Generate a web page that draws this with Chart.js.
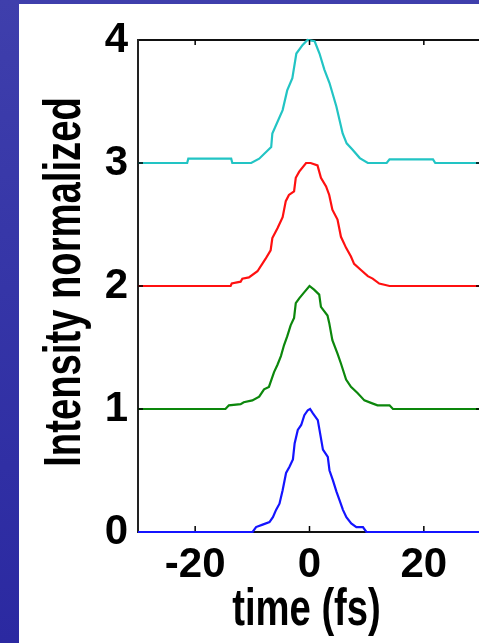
<!DOCTYPE html>
<html><head><meta charset="utf-8">
<script src="https://cdn.jsdelivr.net/npm/chart.js@4.4.0/dist/chart.umd.min.js"></script>
<style>
html,body{margin:0;padding:0;width:479px;height:643px;overflow:hidden;}
body{background:linear-gradient(180deg,#3f3fac 0%,#3535a7 45%,#2b29a1 100%);position:relative;}
#panel{position:absolute;left:19px;top:4px;width:470px;height:650px;background:#fff;}
#c{position:absolute;left:0;top:0;}
</style></head><body>
<div id="panel"></div>
<canvas id="c" width="490" height="643"></canvas>
<script>
// tick labels
const xTicks = [-20, 0, 20];
const yTicks = [0, 1, 2, 3, 4];

// blue pulse (offset 0)
const tBlue = [-30, -9.95, -9.35, -8.2, -7.0, -6.4, -5.85, -5.25, -4.7, -4.1, -3.5, -2.9, -2.6, -2.05, -1.45, -0.9, -0.3, 0.1, 0.6, 1.45, 1.75, 2.35, 3.2, 3.5, 4.1, 4.7, 5.25, 5.85, 6.45, 7.3, 8.2, 9.35, 9.95, 30];
const iBlue = [0, 0, 0.04, 0.06, 0.08, 0.12, 0.18, 0.23, 0.34, 0.48, 0.53, 0.59, 0.72, 0.83, 0.87, 0.95, 0.99, 1.0, 0.965, 0.91, 0.83, 0.67, 0.61, 0.50, 0.42, 0.33, 0.26, 0.18, 0.12, 0.07, 0.04, 0.04, 0, 0];

// green pulse (offset 1)
const tGreen = [-30, -14.7, -14.1, -12.05, -11.5, -10, -8.8, -7.95, -7.1, -6.2, -5.6, -5.0, -4.45, -3.9, -3.3, -2.7, -2.4, -1.8, -0.9, 0, 0.8, 1.7, 2.0, 3.15, 3.45, 4.0, 4.9, 5.5, 6.4, 7.25, 8.4, 9.6, 10.75, 11.9, 14.0, 14.6, 30];
const iGreen = [1.0, 1.0, 1.03, 1.04, 1.055, 1.07, 1.10, 1.16, 1.18, 1.30, 1.36, 1.43, 1.52, 1.59, 1.68, 1.74, 1.86, 1.90, 1.95, 2.0, 1.97, 1.93, 1.83, 1.76, 1.70, 1.56, 1.45, 1.37, 1.24, 1.18, 1.13, 1.07, 1.05, 1.03, 1.03, 1.0, 1.0];

// red pulse (offset 2)
const tRed = [-30, -13.8, -13.6, -12.05, -11.75, -10.6, -9.1, -7.7, -6.8, -6.5, -5.6, -4.7, -4.15, -3.6, -2.7, -2.4, -1.8, -0.6, 0.2, 1.4, 2.0, 2.9, 3.45, 4.0, 4.9, 5.5, 6.4, 7.25, 7.8, 9.0, 10.2, 11.05, 12.2, 14.0, 30];
const iRed = [2.0, 2.0, 2.02, 2.035, 2.06, 2.07, 2.12, 2.22, 2.29, 2.39, 2.47, 2.56, 2.69, 2.74, 2.77, 2.88, 2.93, 3.0, 3.0, 2.98, 2.88, 2.81, 2.74, 2.62, 2.54, 2.40, 2.31, 2.24, 2.18, 2.13, 2.08, 2.06, 2.02, 2.0, 2.0];

// cyan pulse (offset 3)
const tCyan = [-30, -21.4, -21.2, -13.7, -13.5, -10.2, -8.8, -6.7, -6.5, -4.7, -3.9, -3.0, -2.3, -1.2, -0.35, 0.9, 1.75, 2.6, 3.5, 4.7, 5.8, 6.5, 7.5, 8.8, 10.2, 13.5, 14.0, 21.6, 22.0, 30];
const iCyan = [3.0, 3.0, 3.035, 3.035, 3.0, 3.0, 3.035, 3.13, 3.24, 3.43, 3.59, 3.69, 3.89, 3.96, 4.0, 3.99, 3.89, 3.76, 3.65, 3.46, 3.24, 3.16, 3.11, 3.04, 3.0, 3.0, 3.03, 3.03, 3.0, 3.0];

const F = "'Liberation Sans', Arial, sans-serif";
const pts = (t, v) => t.map((x, i) => ({x: x, y: v[i]}));

// axis title drawn as real text, horizontally condensed like the original
function condensedTitle() {
  const o = this.options.title;
  if (!o.display) return;
  const ctx = this.ctx;
  ctx.save();
  ctx.font = 'bold ' + o.font.size + 'px ' + F;
  ctx.fillStyle = o.color;
  ctx.textAlign = 'center';
  ctx.textBaseline = 'alphabetic';
  if (this.isHorizontal()) {
    ctx.translate((this.left + this.right) / 2 - 3, this.bottom - 18);
  } else {
    ctx.translate(this.left + 80, (this.top + this.bottom) / 2 - 4);
    ctx.rotate(-Math.PI / 2);
  }
  ctx.scale(0.735, 1);
  ctx.fillText(o.text, 0, 0);
  ctx.restore();
}

const inwardTicks = {
  id: 'inwardTicks',
  afterDraw(chart) {
    const {ctx, chartArea: a, scales: {x, y}} = chart;
    ctx.save();
    ctx.strokeStyle = '#000';
    ctx.lineWidth = 1.5;
    ctx.beginPath();
    xTicks.forEach(v => {
      const px = x.getPixelForValue(v);
      ctx.moveTo(px, a.bottom - 1); ctx.lineTo(px, a.bottom - 6);
      ctx.moveTo(px, a.top); ctx.lineTo(px, a.top + 5);
    });
    yTicks.slice(1, -1).forEach(v => {
      const py = y.getPixelForValue(v);
      ctx.moveTo(a.left, py); ctx.lineTo(a.left + 5, py);
      ctx.moveTo(a.right, py); ctx.lineTo(a.right - 5, py);
    });
    ctx.stroke();
    ctx.restore();
  }
};

new Chart(document.getElementById('c'), {
  type: 'line',
  data: {
    datasets: [
      {data: pts(tBlue, iBlue), borderColor: '#1414ff'},
      {data: pts(tGreen, iGreen), borderColor: '#0c870c'},
      {data: pts(tRed, iRed), borderColor: '#ff1010'},
      {data: pts(tCyan, iCyan), borderColor: '#22c4c4'}
    ]
  },
  options: {
    responsive: false,
    animation: false,
    layout: {padding: {left: 0, right: 9, top: 0, bottom: 0}},
    plugins: {legend: {display: false}, tooltip: {enabled: false}},
    elements: {point: {radius: 0}, line: {borderWidth: 2.2, tension: 0}},
    datasets: {line: {clip: 4}},
    scales: {
      x: {
        type: 'linear', position: 'bottom', min: -30, max: 30,
        afterBuildTicks: s => { s.ticks = xTicks.map(v => ({value: v})); },
        ticks: {font: {family: F, size: 42, weight: 'bold'}, color: '#000', padding: 8, maxRotation: 0, autoSkip: false},
        grid: {display: false, drawTicks: false},
        border: {display: true, color: '#111', width: 2},
        title: {display: true, text: 'time (fs)', color: '#000', padding: 10,
                font: {family: F, size: 52, weight: 'bold', lineHeight: 1}},
        afterFit: s => { s.height = 111; s.drawTitle = condensedTitle; }
      },
      xTop: {
        type: 'linear', position: 'top', min: -30, max: 30,
        ticks: {display: false},
        grid: {display: false, drawTicks: false},
        border: {display: true, color: '#111', width: 2},
        afterFit: s => { s.height = 40; }
      },
      y: {
        type: 'linear', position: 'left', min: 0, max: 4,
        afterBuildTicks: s => { s.ticks = yTicks.map(v => ({value: v})); },
        ticks: {font: {family: F, size: 42, weight: 'bold'}, color: '#000', padding: 10},
        grid: {display: false, drawTicks: false},
        border: {display: true, color: '#222', width: 2},
        title: {display: true, text: 'Intensity normalized', color: '#000', padding: 36,
                font: {family: F, size: 52, weight: 'bold', lineHeight: 1}},
        afterFit: s => { s.width = 138; s.drawTitle = condensedTitle; }
      }
    }
  },
  plugins: [inwardTicks]
});
</script></body></html>
